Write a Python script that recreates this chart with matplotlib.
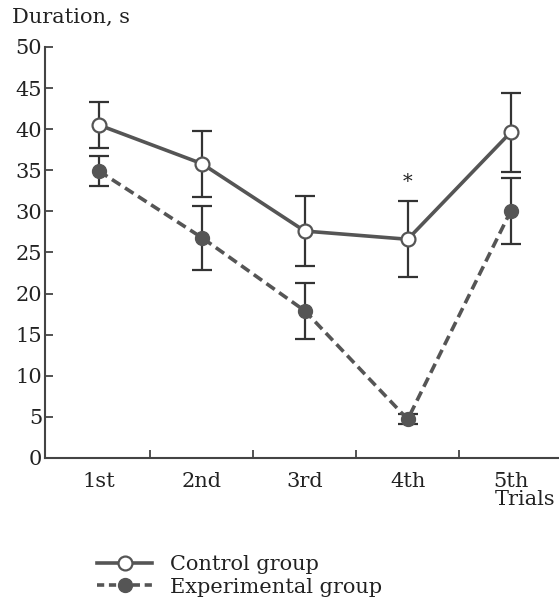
import matplotlib
matplotlib.use("Agg")
import matplotlib.pyplot as plt
from matplotlib.lines import Line2D

trials = ["1st", "2nd", "3rd", "4th", "5th"]
control_mean = [40.5, 35.8, 27.6, 26.6, 39.6]
control_err = [2.8, 4.0, 4.3, 4.6, 4.8]
exp_mean = [34.9, 26.8, 17.9, 4.7, 30.0]
exp_err = [1.8, 3.9, 3.4, 0.6, 4.0]
yticks = [0, 5, 10, 15, 20, 25, 30, 35, 40, 45, 50]

FONT = "DejaVu Serif"
FS = 15
LINEC = "#555555"
ERRC = "#333333"

plt.rcParams["font.family"] = [FONT]

fig = plt.figure(figsize=(5.59, 6.09), dpi=100)
ax = fig.add_axes([0.0805, 0.248, 0.9195, 0.675])

x = list(range(len(trials)))

ax.errorbar(x, control_mean, yerr=control_err, fmt="none", ecolor=ERRC,
            elinewidth=1.6, capsize=7.5, capthick=1.6, zorder=2)
ax.errorbar(x, exp_mean, yerr=exp_err, fmt="none", ecolor=ERRC,
            elinewidth=1.6, capsize=7.5, capthick=1.6, zorder=2)

ax.plot(x, control_mean, color=LINEC, lw=2.6, marker="o", markersize=10,
        markerfacecolor="white", markeredgecolor=LINEC, markeredgewidth=1.6,
        zorder=4, solid_capstyle="butt")
ax.plot(x, exp_mean, color=LINEC, lw=2.6, linestyle=(0, (2.8, 1.5)),
        marker="o", markersize=10, markerfacecolor=LINEC,
        markeredgecolor=LINEC, zorder=3)

ax.text(3, 33.6, "*", ha="center", va="center", fontsize=FS - 1, color="#222222")

ax.set_xlim(-0.524, 4.47)
ax.set_ylim(0, 50)

for s in ["top", "right"]:
    ax.spines[s].set_visible(False)
for s in ["left", "bottom"]:
    ax.spines[s].set_color("#444444")
    ax.spines[s].set_linewidth(1.5)

ax.set_yticks(yticks)
ax.set_yticklabels([str(v) for v in yticks])
ax.tick_params(axis="y", direction="in", length=6, width=1.3, color="#444444",
               labelsize=FS, pad=2, labelcolor="#222222")

ax.set_xticks([0.5, 1.5, 2.5, 3.5])
ax.set_xticklabels([])
ax.tick_params(axis="x", which="major", direction="in", length=6, width=1.3,
               color="#444444")
ax.set_xticks(x, minor=True)
ax.set_xticklabels(trials, minor=True)
ax.tick_params(axis="x", which="minor", length=0, labelsize=FS, pad=10,
               labelcolor="#222222")

fig.text(0.021, 0.972, "Duration, s", ha="left", va="center", fontsize=FS,
         color="#222222")
fig.text(0.885, 0.179, "Trials", ha="left", va="center", fontsize=FS,
         color="#222222")

handles = [
    Line2D([], [], color=LINEC, lw=2.6, marker="o", markersize=10,
           markerfacecolor="white", markeredgecolor=LINEC, markeredgewidth=1.6),
    Line2D([], [], color=LINEC, lw=2.6, linestyle=(0, (2.0, 1.3)), marker="o",
           markersize=10, markerfacecolor=LINEC, markeredgecolor=LINEC),
]
fig.legend(handles, ["Control group", "Experimental group"],
           loc="upper left", bbox_to_anchor=(0.1735, 0.088),
           frameon=False, fontsize=FS, handlelength=2.65, handletextpad=0.85,
           labelspacing=0.15, borderaxespad=0, borderpad=0,
           labelcolor="#222222")

fig.savefig("out.png", dpi=100)
